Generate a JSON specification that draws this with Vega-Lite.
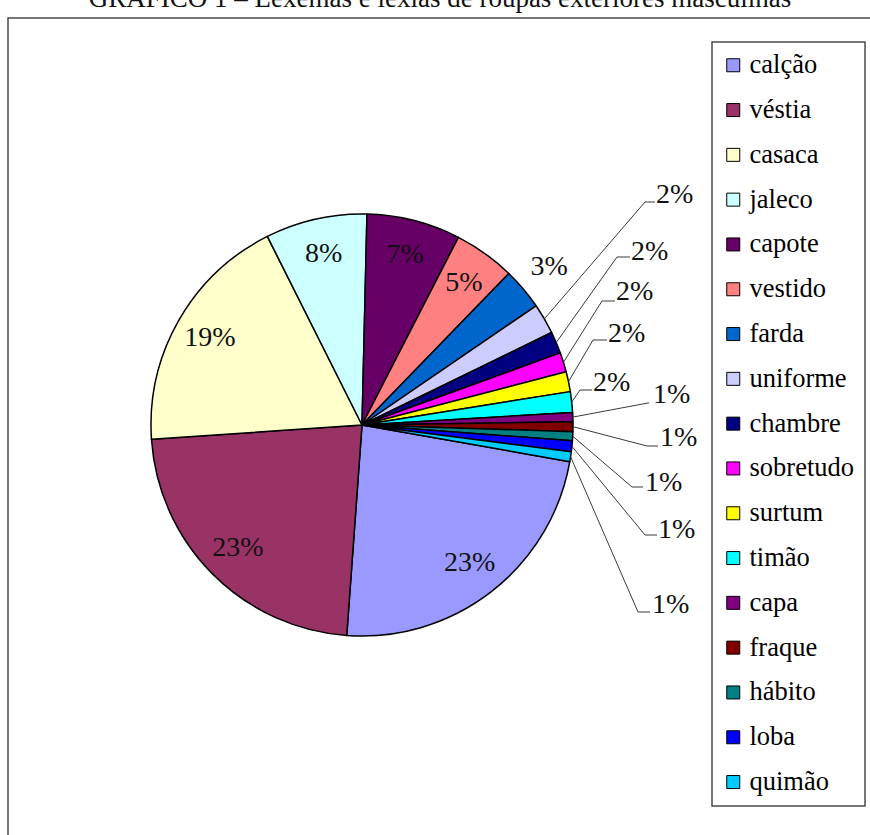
{
  "$schema": "https://vega.github.io/schema/vega-lite/v6.json",
  "autosize": "none",
  "padding": {"left": 8, "top": 18, "right": 0, "bottom": 0},
  "width": 870,
  "height": 830,
  "background": "white",
  "title": {
    "text": "GRÁFICO 1 – Lexemas e lexias de roupas exteriores masculinas",
    "font": "Liberation Serif",
    "fontSize": 27,
    "fontWeight": "normal",
    "color": "#111111",
    "anchor": "middle",
    "baseline": "alphabetic",
    "offset": 11,
    "dy": 27,
    "dx": -3
  },
  "config": {
    "view": {"stroke": "#4a4a4a", "strokeWidth": 1.5},
    "legend": {
      "orient": "none",
      "legendX": 704,
      "legendY": 24,
      "title": null,
      "symbolType": "square",
      "symbolSize": 169,
      "symbolStrokeColor": "black",
      "symbolStrokeWidth": 1,
      "labelFont": "Liberation Serif",
      "labelFontSize": 26.5,
      "labelColor": "#000000",
      "labelLimit": 0,
      "rowPadding": 17.8,
      "padding": 10,
      "symbolOffset": -2,
      "labelOffset": 3,
      "strokeColor": "#4a4a4a",
      "strokeWidth": 1.5
    }
  },
  "data": {
    "values": [
      {"i": 0, "k": "calção", "v": 84.15, "p": "23%"},
      {"i": 1, "k": "véstia", "v": 81.95, "p": "23%"},
      {"i": 2, "k": "casaca", "v": 67.25, "p": "19%"},
      {"i": 3, "k": "jaleco", "v": 28.0, "p": "8%"},
      {"i": 4, "k": "capote", "v": 25.85, "p": "7%"},
      {"i": 5, "k": "vestido", "v": 16.9, "p": "5%"},
      {"i": 6, "k": "farda", "v": 11.5, "p": "3%"},
      {"i": 7, "k": "uniforme", "v": 8.4, "p": "2%"},
      {"i": 8, "k": "chambre", "v": 6.0, "p": "2%"},
      {"i": 9, "k": "sobretudo", "v": 5.4, "p": "2%"},
      {"i": 10, "k": "surtum", "v": 5.5, "p": "2%"},
      {"i": 11, "k": "timão", "v": 5.7, "p": "2%"},
      {"i": 12, "k": "capa", "v": 2.5, "p": "1%"},
      {"i": 13, "k": "fraque", "v": 2.7, "p": "1%"},
      {"i": 14, "k": "hábito", "v": 2.5, "p": "1%"},
      {"i": 15, "k": "loba", "v": 3.0, "p": "1%"},
      {"i": 16, "k": "quimão", "v": 2.7, "p": "1%"}
    ]
  },
  "transform": [
    {"joinaggregate": [{"op": "sum", "field": "v", "as": "tot"}]},
    {"window": [{"op": "sum", "field": "v", "as": "cum"}], "sort": [{"field": "i", "order": "ascending"}], "frame": [null, 0]},
    {"calculate": "datum.cum - datum.v", "as": "s0"},
    {"calculate": "((datum.cum - datum.v / 2) / datum.tot * 360 + 100) * PI / 180", "as": "am"},
    {"calculate": "211 * sin(datum.am)", "as": "mx"},
    {"calculate": "-211 * cos(datum.am)", "as": "my"},
    {"calculate": "datum.i >= 7 ? [[283,-223,293,294,-230],[255,-168,268,269,-173],[240,-124,253,254,-133],[231,-85,245,246,-91],[218,-35,230,231,-42],[286,-22,287,291,-30],[285,21,296,298,13],[270,62,281,283,58],[283,110,295,296,105],[276,187,288,290,180]][datum.i - 7] : null", "as": "L"},
    {"calculate": "datum.i >= 7 ? datum.L[0] : null", "as": "ex"},
    {"calculate": "datum.i >= 7 ? datum.L[1] : null", "as": "ey"},
    {"calculate": "datum.i >= 7 ? datum.L[2] : null", "as": "hx"},
    {"calculate": "datum.i >= 7 ? datum.L[3] : (datum.i == 6 ? 245 : 175) * sin(datum.am)", "as": "tx"},
    {"calculate": "datum.i >= 7 ? datum.L[4] : -(datum.i == 6 ? 245 : 175) * cos(datum.am)", "as": "ty"}
  ],
  "layer": [
    {
      "mark": {"type": "arc", "outerRadius": 211, "stroke": "black", "strokeWidth": 1.5, "strokeJoin": "round"},
      "encoding": {
        "x": {"datum": 0, "type": "quantitative", "scale": {"domain": [-354, 516], "nice": false, "zero": false}, "axis": null},
        "y": {"datum": 0, "type": "quantitative", "scale": {"domain": [-407, 423], "nice": false, "zero": false, "reverse": true}, "axis": null},
        "theta": {"field": "s0", "type": "quantitative", "stack": null, "scale": {"domain": [0, 360], "range": [1.7453293, 8.0285146]}},
        "theta2": {"field": "cum"},
        "color": {
          "field": "k",
          "type": "nominal",
          "sort": null,
          "scale": {
            "domain": ["calção", "véstia", "casaca", "jaleco", "capote", "vestido", "farda", "uniforme", "chambre", "sobretudo", "surtum", "timão", "capa", "fraque", "hábito", "loba", "quimão"],
            "range": ["#9999FF", "#993366", "#FFFFCC", "#CCFFFF", "#660066", "#FF8080", "#0066CC", "#CCCCFF", "#000080", "#FF00FF", "#FFFF00", "#00FFFF", "#800080", "#800000", "#008080", "#0000FF", "#00CCFF"]
          },
          "legend": {"title": null}
        }
      }
    },
    {
      "transform": [{"filter": "datum.i >= 7"}],
      "mark": {"type": "rule", "color": "#3a3a3a", "strokeWidth": 1},
      "encoding": {
        "x": {"field": "mx", "type": "quantitative", "axis": null},
        "y": {"field": "my", "type": "quantitative", "axis": null},
        "x2": {"field": "ex"},
        "y2": {"field": "ey"}
      }
    },
    {
      "transform": [{"filter": "datum.i >= 7"}],
      "mark": {"type": "rule", "color": "#3a3a3a", "strokeWidth": 1},
      "encoding": {
        "x": {"field": "ex", "type": "quantitative", "axis": null},
        "y": {"field": "ey", "type": "quantitative", "axis": null},
        "x2": {"field": "hx"}
      }
    },
    {
      "transform": [{"filter": "datum.i <= 6"}],
      "mark": {"type": "text", "font": "Liberation Serif", "fontSize": 28, "color": "#111111", "align": "center", "baseline": "middle"},
      "encoding": {
        "x": {"field": "tx", "type": "quantitative", "axis": null},
        "y": {"field": "ty", "type": "quantitative", "axis": null},
        "text": {"field": "p"}
      }
    },
    {
      "transform": [{"filter": "datum.i >= 7"}],
      "mark": {"type": "text", "font": "Liberation Serif", "fontSize": 28, "color": "#111111", "align": "left", "baseline": "middle"},
      "encoding": {
        "x": {"field": "tx", "type": "quantitative", "axis": null},
        "y": {"field": "ty", "type": "quantitative", "axis": null},
        "text": {"field": "p"}
      }
    }
  ]
}
